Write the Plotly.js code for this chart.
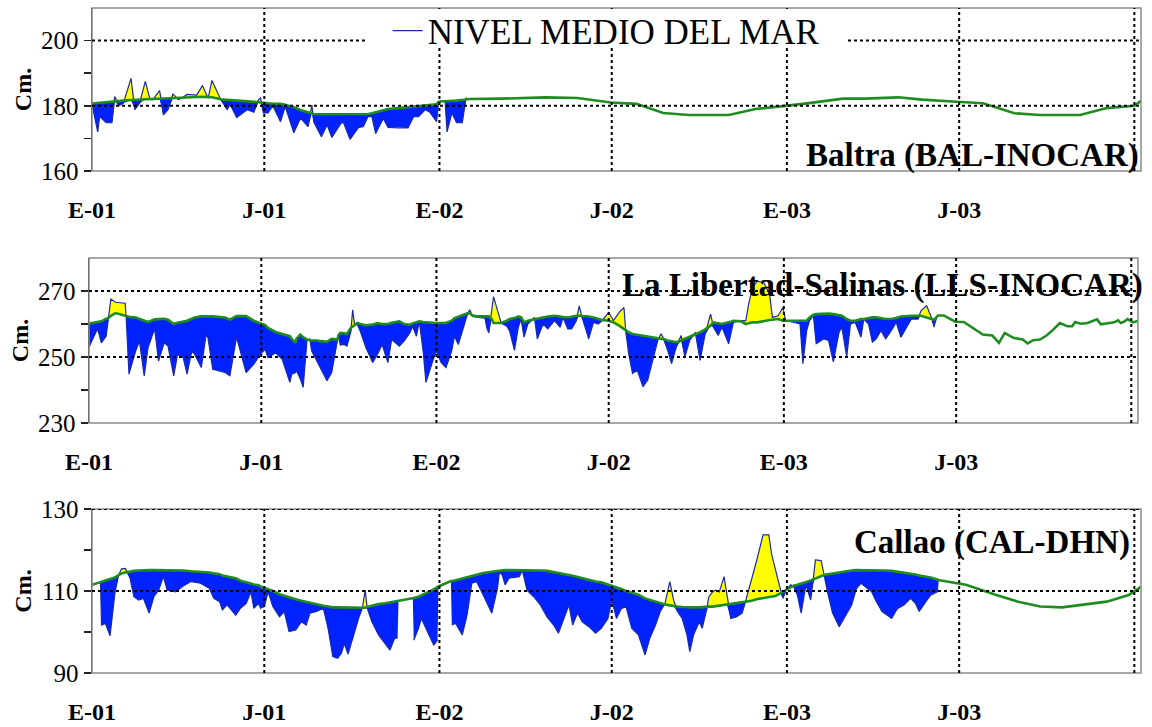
<!DOCTYPE html>
<html><head><meta charset="utf-8">
<script src="https://cdn.plot.ly/plotly-3.0.1.min.js"></script>
<style>html,body{margin:0;padding:0;background:#fff}</style>
</head><body><div id="chart" style="width:1152px;height:727px"></div>
<script>
// ---- x axis (days since 1 Jan 2001) ----
const xTickVals = [0, 181, 365, 546, 730, 911];
const xTickText = ['E-01', 'J-01', 'E-02', 'J-02', 'E-03', 'J-03'];
const xGridVals = [181, 365, 546, 730, 911, 1095];

// ---- Baltra (BAL-INOCAR) ----
const balDays = [0,6,8,15,21,24,28,33,41,45,50,56,61,64,71,75,80,85,91,94,100,105,110,116,122,126,135,142,145,152,163,170,175,177,180,185,190,198,203,212,219,227,231,233,241,247,252,261,264,271,280,285,290,294,298,306,311,322,332,338,343,350,355,362,364,367,371,373,378,383,389,393,
397,430,476,510,545,572,600,627,669,697,729,747,789,812,847,872,904,936,969,996,1038,1066,1095,1102];
const balObs = [180.5,172.0,176.7,174.8,174.8,182.9,180.0,180.8,188.4,178.8,
180.8,187.5,181.9,181.9,184.7,177.2,178.9,183.6,181.9,182.3,
183.5,183.5,183.3,186.2,182.3,187.8,182.1,178.8,180.5,176.4,
178.8,178.0,181.9,182.4,177.8,177.8,180.0,175.1,179.8,171.7,
176.2,173.6,180.2,175.0,170.5,174.1,170.3,174.4,175.0,169.7,
173.4,173.6,176.7,176.7,171.5,176.1,173.4,173.2,173.2,176.7,
176.7,178.8,178.0,175.1,180.8,null,181.0,172.0,177.8,174.8,
174.8,182.6,
null,null,null,null,null,null,null,null,null,null,null,null,null,null,null,null,null,null,null,null,null,null,null,null];
const balMean = [180.7,180.9,181.0,181.1,181.3,181.4,181.5,181.6,181.8,181.9,
182.0,182.0,182.1,182.1,182.2,182.2,182.3,182.3,182.4,182.5,
182.6,182.7,182.8,182.8,182.7,182.6,182.0,181.8,181.7,181.6,
181.4,181.2,181.1,181.0,180.9,180.8,180.7,180.6,180.3,179.6,
178.7,178.0,177.7,177.5,177.4,177.4,177.4,177.4,177.4,177.4,
177.4,177.4,177.5,177.7,178.0,178.6,179.0,179.3,179.6,179.8,
180.0,180.1,180.3,180.5,181.2,181.4,181.4,181.4,181.5,181.6,
181.8,181.9,
182.1,182.2,182.6,182.4,181.0,180.6,177.8,177.2,177.2,179.0,180.0,180.6,182.2,182.2,182.6,181.9,181.3,180.8,177.7,177.2,177.2,179.3,180.0,181.5];
const balYTicks = [160, 180, 200];
const balYMinor = [170, 190];
const balGridY = [180, 200];

// ---- La Libertad-Salinas (LLS-INOCAR) ----
const llsDays = [0,9,13,18,20,23,28,38,39,42,
49,53,58,62,69,73,79,83,89,93,
99,103,108,111,118,123,125,130,143,148,
155,165,173,180,185,188,196,203,211,213,
217,218,222,225,229,232,234,240,243,250,
255,261,262,264,268,271,275,277,279,282,
285,291,298,303,308,314,318,326,331,337,
340,344,347,351,354,361,365,370,375,381,
384,388,393,398,400,403,409,416,418,420,
423,425,430,433,439,442,447,451,454,457,
461,468,471,477,482,489,495,498,503,507,
512,515,518,521,525,530,535,539,546,551,
557,562,564,567,571,576,582,587,592,598,
601,603,608,612,617,622,626,631,637,642,
647,653,656,661,665,672,677,685,690,693,
697,702,709,715,718,724,729,732,741,747,
750,754,757,761,764,772,777,782,788,791,
796,800,805,811,814,819,823,827,832,837,
844,848,853,859,864,871,874,880,885,888,
892,898,910,919,939,949,956,962,971,981,
986,992,999,1006,1013,1020,1028,1033,1036,1042,
1049,1054,1059,1063,1070,1077,1081,1084,1088,1091,
1097,1102];
const llsObs = [253.0,258.6,254.3,256.3,260.8,267.6,266.6,266.3,262.3,244.8,
251.8,254.8,244.3,252.8,258.6,248.8,254.3,253.3,244.3,250.8,
249.8,244.8,251.8,250.8,246.8,256.8,255.8,246.3,245.3,244.3,
256.0,245.3,247.8,250.8,252.3,249.8,251.3,249.3,242.3,244.8,
245.3,245.8,243.3,240.8,255.0,255.5,251.8,248.3,246.8,242.8,
245.3,254.3,257.0,253.6,253.8,253.3,257.6,264.3,259.8,259.8,
257.8,252.8,248.3,250.8,253.8,248.3,255.3,253.3,254.8,257.3,
259.3,256.3,260.8,251.8,242.3,248.8,251.8,248.3,246.8,251.8,
256.3,253.8,258.8,263.3,264.3,262.3,262.0,261.8,258.8,257.3,
263.8,268.3,263.3,260.3,259.3,257.8,252.0,259.0,261.5,256.0,
260.0,262.0,255.5,260.0,258.5,261.0,259.0,262.0,258.5,258.5,
261.0,265.5,262.0,259.0,255.5,260.5,260.0,261.0,263.5,261.0,
263.5,265.0,257.5,251.0,245.0,246.0,241.0,243.0,249.0,255.5,
257.0,256.0,252.0,248.0,253.0,256.5,250.0,255.0,257.5,249.0,
256.5,263.0,259.0,256.5,259.0,254.0,260.5,261.0,261.0,266.0,
271.0,273.0,272.5,269.0,262.0,262.5,265.0,261.0,260.5,260.0,
248.0,258.0,261.0,262.5,254.0,255.5,255.0,248.5,257.5,259.0,
250.0,260.0,260.5,256.0,261.5,260.0,254.5,255.5,258.0,255.5,
258.5,260.5,256.0,259.0,261.5,261.5,264.0,265.5,262.0,259.0,
null,null,null,null,null,null,null,null,null,null,
null,null,null,null,null,null,null,null,null,null,
null,null,null,null,null,null,null,null,null,null,
null,null];
const llsMean = [260.1,260.6,260.8,261.6,261.8,262.5,263.3,262.5,262.4,262.2,
262.0,261.6,261.0,260.6,261.4,261.4,261.6,261.3,260.0,260.4,
260.7,261.0,261.6,262.0,262.3,262.3,262.3,262.3,262.0,261.3,
262.4,262.4,261.0,260.3,259.7,258.8,257.6,257.0,256.3,255.5,
254.3,255.5,256.8,256.0,255.3,255.1,255.1,255.0,254.8,254.6,
255.5,255.3,256.5,257.3,257.2,257.0,258.8,259.3,259.8,260.3,
260.0,259.6,259.8,260.3,260.0,260.0,260.4,260.8,260.0,259.8,
260.2,260.5,260.8,260.6,260.5,260.4,260.3,260.3,260.3,261.0,
261.8,262.2,262.7,263.3,263.2,262.6,262.3,262.3,262.3,262.3,
261.5,260.3,260.3,260.3,261.0,261.5,261.8,262.3,262.0,260.5,
261.0,261.5,261.8,262.0,262.3,262.5,262.3,262.1,262.0,262.3,
262.5,262.5,262.5,262.5,262.3,262.0,261.5,261.2,261.0,260.5,
259.5,258.5,258.0,257.5,257.0,256.8,256.5,256.2,256.0,255.7,
255.5,255.5,255.0,254.8,254.5,255.0,255.5,256.0,256.8,257.5,
258.3,259.5,260.5,260.2,260.0,260.5,261.0,260.8,260.0,260.2,
260.5,260.5,261.0,261.2,261.3,261.5,261.0,261.0,261.0,261.0,
261.0,261.0,262.0,262.8,263.0,263.1,263.2,263.0,262.8,262.5,
261.5,261.0,261.0,261.5,261.5,261.8,262.0,262.0,261.8,261.5,
261.6,261.8,262.3,262.5,262.5,262.5,262.5,262.0,261.5,261.3,
262.6,262.6,260.7,260.6,256.8,256.5,254.3,257.3,255.8,255.3,
254.1,255.1,255.3,256.5,258.3,260.3,259.3,259.3,260.6,260.1,
260.3,260.8,261.4,259.9,260.3,260.5,261.1,260.3,260.8,261.5,
260.5,261.0];
const llsYTicks = [230, 250, 270];
const llsYMinor = [240, 260];
const llsGridY = [250, 270];

// ---- Callao (CAL-DHN) ----
const calDays = [0,5,9,10,14,19,24,28,31,35,
37,40,44,49,54,60,65,70,75,79,
88,95,104,114,123,128,134,137,142,146,
151,156,162,167,170,175,177,181,185,190,
197,202,207,214,220,225,229,236,243,248,
253,258,262,265,269,274,280,284,287,289,
294,301,308,313,318,321,322,337,338,343,
346,352,359,363,364,377,378,382,389,394,
399,404,411,420,426,428,431,434,438,449,
452,457,464,471,478,485,490,496,501,505,
510,515,522,529,535,542,546,551,556,561,
567,574,581,586,592,597,602,607,611,615,
620,625,628,632,638,641,646,648,652,655,
659,664,667,671,677,683,686,689,693,698,
705,711,714,718,723,726,729,734,737,741,
745,750,753,755,757,760,766,769,773,778,
785,790,798,803,808,812,819,824,830,840,
846,853,860,865,869,876,881,888,889,
918,950,973,996,1019,1042,1066,1089,1102];
const calObs = [null,null,111.9,101.7,102.1,99.1,109.4,113.9,115.4,115.5,
114.6,113.1,108.6,107.8,108.2,104.6,108.6,110.2,113.5,110.2,
109.8,111.1,112.3,111.9,110.7,108.2,107.4,105.4,106.6,105.4,
104.1,105.8,107.0,109.8,105.8,107.0,105.8,106.2,109.8,106.2,
103.7,105.0,100.1,100.5,102.5,101.7,104.6,105.0,105.8,100.9,
94.0,93.6,94.8,97.2,94.6,98.5,103.3,105.8,110.2,105.9,
102.5,99.3,97.2,95.6,98.5,98.5,null,null,98.0,100.9,
103.3,100.1,96.8,98.0,null,null,101.7,102.1,99.3,104.1,
111.9,112.3,109.0,104.6,110.7,114.7,113.9,111.5,113.1,113.5,
115.1,110.2,108.6,106.6,103.7,101.7,99.7,103.3,106.6,101.7,
104.6,102.5,101.3,99.7,100.9,103.3,107.8,103.3,105.7,106.2,
100.9,99.3,94.4,98.5,101.7,105.0,107.0,112.3,107.8,105.0,
103.3,99.3,95.2,99.3,102.5,100.9,105.7,108.6,109.8,110.2,
109.8,113.5,109.0,103.3,103.7,104.6,107.0,109.4,113.1,117.2,
123.7,123.7,118.9,114.9,110.6,108.2,110.2,111.5,111.1,109.0,
104.6,111.5,109.0,107.8,111.5,117.6,117.4,113.9,109.4,104.6,
101.3,103.3,106.6,110.6,111.9,111.1,109.8,107.4,105.0,103.3,
105.7,106.6,108.2,107.0,105.0,107.4,109.0,109.8,112.7,
null,null,null,null,null,null,null,null,null];
const calMean = [111.5,111.9,112.2,112.3,112.6,113.0,113.3,113.9,114.3,114.5,
114.6,114.8,114.9,115.0,115.1,115.1,115.1,115.1,115.1,115.1,
115.0,115.0,114.8,114.7,114.5,114.3,114.1,113.8,113.5,113.3,
113.1,112.5,112.2,111.8,111.6,111.4,111.1,110.8,110.5,110.0,
109.2,108.8,108.5,108.0,107.6,107.3,107.1,106.7,106.4,106.2,
106.0,106.0,106.0,106.0,105.9,105.9,105.9,105.9,105.9,106.1,
106.4,106.8,107.0,107.2,107.4,107.5,107.5,108.2,108.3,108.6,
109.0,109.6,110.4,111.0,111.1,112.4,112.4,112.6,113.0,113.3,
113.7,114.0,114.4,114.7,114.9,114.9,115.1,115.1,115.1,115.1,
115.1,115.1,115.1,115.0,114.9,114.6,114.5,114.3,113.9,113.7,
113.4,113.1,112.7,112.3,112.1,111.6,111.3,110.8,110.5,110.0,
109.6,109.1,108.2,107.8,107.4,107.0,106.7,106.5,106.3,106.2,
106.1,106.0,106.0,106.0,106.0,106.1,106.1,106.2,106.2,106.3,
106.4,106.5,106.6,106.7,106.9,107.1,107.2,107.4,107.6,108.0,
108.3,108.5,108.6,108.8,109.4,109.8,110.4,110.9,111.3,111.5,
111.8,112.0,112.4,112.6,112.8,113.1,113.6,113.9,114.1,114.3,
114.6,114.8,115.0,115.1,115.1,115.1,115.1,115.0,115.0,114.9,
114.7,114.5,114.3,114.0,113.8,113.5,113.3,112.8,112.7,
111.5,109.0,107.4,106.2,106.0,106.6,107.4,109.0,111.0];
const calYTicks = [90, 110, 130];
const calYMinor = [100, 120];
const calGridY = [110, 130];

const stationNames = ['Baltra (BAL-INOCAR)', 'La Libertad-Salinas (LLS-INOCAR)', 'Callao (CAL-DHN)'];
const legendName = 'NIVEL MEDIO DEL MAR';
const yTitle = 'Cm.';

// ---- styles ----
const SERIF = 'Liberation Serif, Times New Roman, serif';
const BLUE = '#0022ff', YELLOW = '#ffff00', NAVY = '#1a2aa8', GREEN = '#1f8c1f';

function panelTraces(days, obs, mean, n, legend) {
  const xa = n === 1 ? 'x' : 'x' + n, ya = n === 1 ? 'y' : 'y' + n;
  const lower = obs.map((v, i) => v === null ? mean[i] : Math.min(v, mean[i]));
  const upper = obs.map((v, i) => v === null ? mean[i] : Math.max(v, mean[i]));
  const common = {x: days, xaxis: xa, yaxis: ya, hoverinfo: 'skip', showlegend: false, mode: 'lines'};
  return [
    Object.assign({}, common, {y: mean, line: {width: 0, color: 'rgba(0,0,0,0)'}}),
    Object.assign({}, common, {y: lower, line: {width: 0, color: 'rgba(0,0,0,0)'}, fill: 'tonexty', fillcolor: BLUE}),
    Object.assign({}, common, {y: mean, line: {width: 0, color: 'rgba(0,0,0,0)'}}),
    Object.assign({}, common, {y: upper, line: {width: 0, color: 'rgba(0,0,0,0)'}, fill: 'tonexty', fillcolor: YELLOW}),
    Object.assign({}, common, {y: obs, line: {width: 1.2, color: NAVY}, connectgaps: false, name: legendName, showlegend: legend}),
    Object.assign({}, common, {y: mean, line: {width: 2.6, color: GREEN}})
  ];
}

const data = [].concat(
  panelTraces(balDays, balObs, balMean, 1, true),
  panelTraces(llsDays, llsObs, llsMean, 2, false),
  panelTraces(calDays, calObs, calMean, 3, false)
);

function xAxis(domain, anchor) {
  return {domain: domain, anchor: anchor, range: [0, 1102], tickmode: 'array', tickvals: xTickVals, ticktext: xTickText,
    ticks: '', showgrid: false, zeroline: false, showline: false, ticklabelstandoff: 22,
    tickfont: {family: SERIF, size: 24, color: '#000', weight: 'bold'}, fixedrange: true};
}
function yAxis(domain, range, ticks, minor, anchor) {
  return {domain: domain, anchor: anchor, range: range, tickmode: 'array', tickvals: ticks,
    ticks: 'outside', ticklen: 7, tickwidth: 1.5, tickcolor: '#222',
    minor: {tickmode: 'array', tickvals: minor, ticks: 'outside', ticklen: 7, tickwidth: 1.5, tickcolor: '#222', showgrid: false},
    showline: true, linecolor: '#222', linewidth: 1.5, showgrid: false, zeroline: false,
    tickfont: {family: SERIF, size: 25, color: '#000'},
    title: {text: yTitle, font: {family: SERIF, size: 24, color: '#000', weight: 'bold'}, standoff: 2}, fixedrange: true};
}

const shapes = [];
const panels = [['x', 'y', balGridY], ['x2', 'y2', llsGridY], ['x3', 'y3', calGridY]];
panels.forEach(([xa, ya, gy]) => {
  shapes.push({type: 'rect', xref: xa + ' domain', yref: ya + ' domain', x0: 0, x1: 1, y0: 0, y1: 1,
    line: {color: '#8a8a8a', width: 1.5}, layer: 'above'});
  xGridVals.forEach(v => shapes.push({type: 'line', xref: xa, yref: ya + ' domain', x0: v, x1: v, y0: 0, y1: 1,
    line: {color: '#000', width: 2, dash: '3px,3px'}, layer: 'above'}));
  gy.forEach(v => shapes.push({type: 'line', xref: xa + ' domain', yref: ya, x0: 0, x1: 1, y0: v, y1: v,
    line: {color: '#000', width: 2, dash: '3px,3px'}, layer: 'above'}));
});
// white legend background box (covers gridlines like the original legend box)
shapes.push({type: 'rect', xref: 'paper', yref: 'paper', x0: 0.263, x1: 0.7198, y0: 0.9302, y1: 0.985,
  fillcolor: '#fff', line: {width: 0}, layer: 'above'});

const annotations = [
  {xref: 'x domain', yref: 'y domain', x: 1.0, y: 0.098, xanchor: 'right', yanchor: 'middle', showarrow: false,
   text: stationNames[0], font: {family: SERIF, size: 33, color: '#000', weight: 'bold'}},
  {xref: 'x2 domain', yref: 'y2 domain', x: 1.007, y: 0.836, xanchor: 'right', yanchor: 'middle', showarrow: false,
   text: stationNames[1], font: {family: SERIF, size: 33, color: '#000', weight: 'bold'}},
  {xref: 'x3 domain', yref: 'y3 domain', x: 0.991, y: 0.793, xanchor: 'right', yanchor: 'middle', showarrow: false,
   text: stationNames[2], font: {family: SERIF, size: 33, color: '#000', weight: 'bold'}}
];

const layout = {
  width: 1152, height: 727, margin: {l: 88, r: 11, t: 0, b: 54},
  paper_bgcolor: '#fff', plot_bgcolor: '#fff', showlegend: true,
  legend: {x: 0.2846, y: 0.954, xanchor: 'left', yanchor: 'middle', bgcolor: 'rgba(0,0,0,0)', borderwidth: 0,
    font: {family: SERIF, size: 35, color: '#000'}},
  xaxis: xAxis([0.0038, 1], 'y'),
  xaxis2: xAxis([0.00095, 0.9971], 'y2'),
  xaxis3: xAxis([0.0038, 1], 'y3'),
  yaxis: yAxis([0.7459, 0.9881], [160, 210], balYTicks, balYMinor, 'x'),
  yaxis2: yAxis([0.3715, 0.6166], [230, 280], llsYTicks, llsYMinor, 'x2'),
  yaxis3: yAxis([0, 0.2437], [90, 130], calYTicks, calYMinor, 'x3'),
  shapes: shapes, annotations: annotations
};

Plotly.newPlot('chart', data, layout, {displayModeBar: false, staticPlot: true});
</script>
</body></html>
